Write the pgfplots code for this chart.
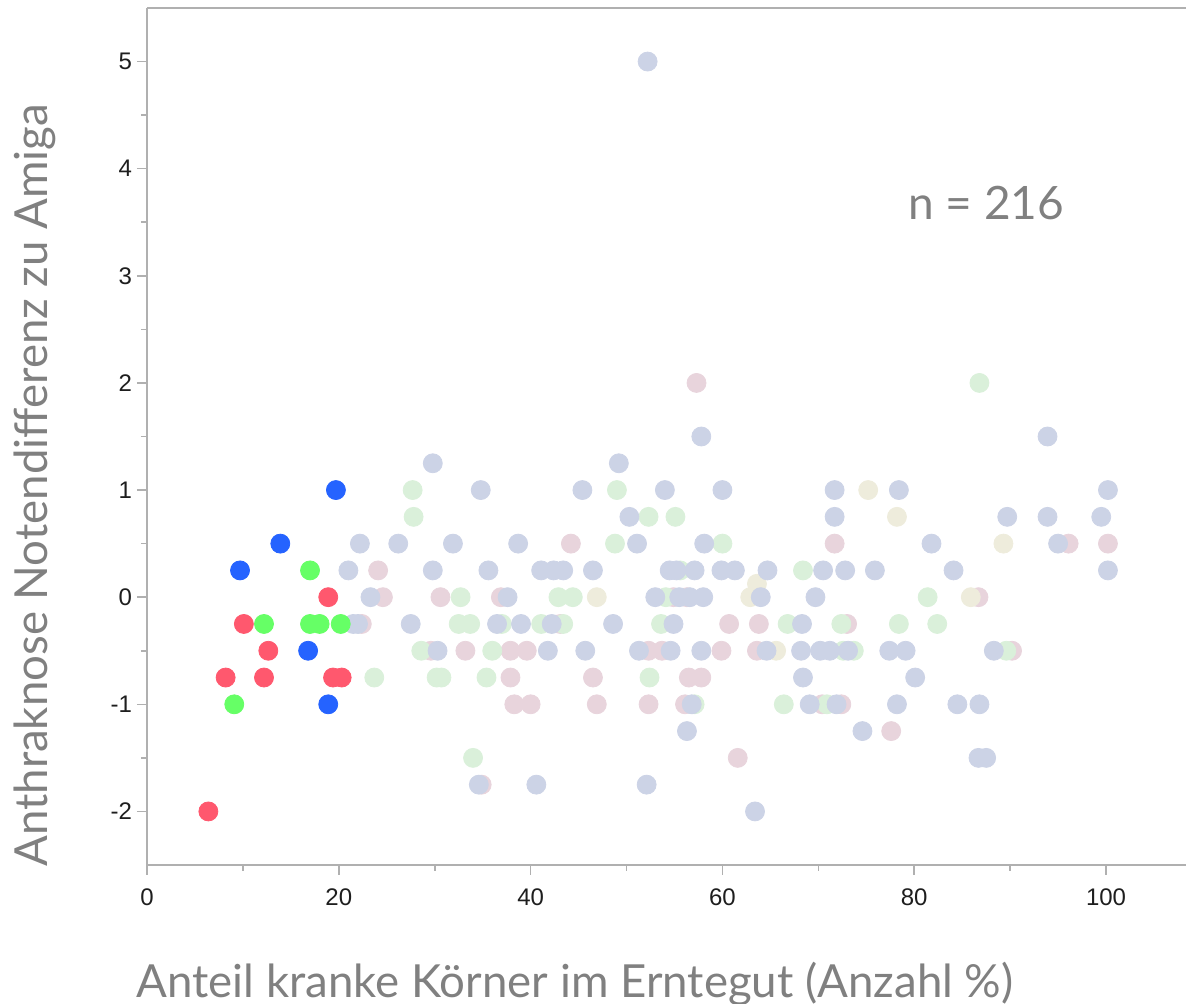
\documentclass[border=0pt]{standalone}
\usepackage{pgfplots}
\pgfplotsset{compat=1.18}
\usepackage{fontspec}
\setmainfont{Lato}
\newfontfamily\tickfont{Liberation Sans}
\definecolor{axisgray}{RGB}{176,176,176}
\definecolor{labgray}{RGB}{128,128,128}
\definecolor{tickblack}{RGB}{30,30,30}
\definecolor{fblue}{RGB}{204,211,230}
\definecolor{fgreen}{RGB}{218,240,218}
\definecolor{fpink}{RGB}{232,212,220}
\definecolor{fyellow}{RGB}{238,236,220}
\definecolor{bred}{RGB}{255,88,110}
\definecolor{bgreen}{RGB}{102,255,102}
\definecolor{bblue}{RGB}{37,99,255}
\begin{document}
\begin{tikzpicture}
\begin{axis}[
  at={(0pt,0pt)}, anchor=south west,
  scale only axis, width=519.5pt, height=428.5pt,
  xmin=0, xmax=108.34, ymin=-2.5, ymax=5.5,
  axis y line*=left,
  axis line style={draw=axisgray, line width=1pt},
  xtick={0,20,...,100}, ytick={-2,...,5},
  minor xtick={10,30,...,90}, minor ytick={-1.5,-0.5,...,4.5},
  tick align=outside, xtick pos=bottom, ytick pos=left,
  major tick length=5pt, minor tick length=3pt,
  every tick/.style={draw=axisgray, line width=0.8pt},
  every minor tick/.style={draw=axisgray, line width=0.8pt},
  /pgf/number format/assume math mode=true,
  ticklabel style={font=\tickfont\fontsize{12}{12}\selectfont, text=tickblack},
  xticklabel style={yshift=-3.5pt},
  yticklabel style={xshift=1pt},
  xlabel={Anteil kranke Körner im Erntegut (Anzahl \%)},
  ylabel={Anthraknose Notendifferenz zu Amiga},
  every axis x label/.style={at={(rel axis cs:0.412,0)}, anchor=base, yshift=-66pt, font=\fontsize{22.8}{24}\selectfont, text=labgray},
  every axis y label/.style={at={(rel axis cs:0,0.443)}, anchor=center, xshift=-56pt, rotate=90, font=\fontsize{22.8}{24}\selectfont, text=labgray},
]
% faded pink
\addplot[only marks, mark=*, mark size=4.75pt, color=fpink, mark options={draw=none}] coordinates {
(24.1,0.25) (24.6,0) (22.4,-0.25) (30.6,0) (36.9,0) (29.6,-0.5) (33.2,-0.5) (37.9,-0.5) (39.6,-0.5)
(37.9,-0.75) (38.3,-1) (40.0,-1) (34.9,-1.75) (57.3,2) (44.2,0.5) (54.9,0) (56.3,0) (52.3,-0.5)
(53.7,-0.5) (46.5,-0.75) (56.5,-0.75) (57.8,-0.75) (46.9,-1) (52.3,-1) (56.1,-1) (71.7,0.5)
(60.7,-0.25) (63.8,-0.25) (73.0,-0.25) (59.9,-0.5) (63.6,-0.5) (70.4,-1) (72.4,-1) (61.6,-1.5)
(86.7,0) (90.2,-0.5) (77.6,-1.25) (96.1,0.5) (100.2,0.5) (43.1,-0.25)
};
% faded yellow
\addplot[only marks, mark=*, mark size=4.75pt, color=fyellow, mark options={draw=none}] coordinates {
(46.9,0) (75.2,1) (78.2,0.75) (89.3,0.5) (63.6,0.125) (62.9,0) (65.6,-0.5) (85.9,0)
};
% faded green
\addplot[only marks, mark=*, mark size=4.75pt, color=fgreen, mark options={draw=none}] coordinates {
(27.7,1) (27.8,0.75) (28.6,-0.5) (23.7,-0.75) (32.7,0) (32.5,-0.25) (33.7,-0.25) (41.1,-0.25)
(36.0,-0.5) (30.2,-0.75) (30.7,-0.75) (35.4,-0.75) (34.0,-1.5) (49.0,1) (52.3,0.75) (55.1,0.75)
(48.8,0.5) (55.6,0.25) (42.9,0) (44.4,0) (54.1,0) (43.4,-0.25) (53.6,-0.25) (52.4,-0.75) (57.1,-1)
(60.0,0.5) (68.4,0.25) (66.8,-0.25) (72.4,-0.25) (72.6,-0.5) (73.7,-0.5) (66.4,-1) (70.9,-1)
(86.8,2) (81.4,0) (78.4,-0.25) (82.4,-0.25) (89.6,-0.5) (37.0,-0.25)
};
% faded blue
\addplot[only marks, mark=*, mark size=4.75pt, color=fblue, mark options={draw=none}] coordinates {
(21.0,0.25) (22.2,0.5) (26.2,0.5) (23.3,0) (21.5,-0.25) (22.0,-0.25) (27.5,-0.25)
(29.8,1.25) (34.8,1) (31.9,0.5) (38.7,0.5) (29.8,0.25) (35.6,0.25) (41.1,0.25) (37.6,0)
(36.5,-0.25) (39.0,-0.25) (30.3,-0.5) (41.8,-0.5) (34.6,-1.75) (40.6,-1.75)
(49.2,1.25) (45.4,1) (54.0,1) (50.3,0.75) (51.1,0.5) (58.1,0.5) (42.4,0.25) (43.4,0.25)
(46.5,0.25) (54.5,0.25) (55.2,0.25) (57.1,0.25) (53.0,0) (55.5,0) (56.6,0) (58.0,0)
(42.2,-0.25) (48.6,-0.25) (54.9,-0.25) (45.7,-0.5) (51.3,-0.5) (54.6,-0.5) (57.8,-0.5)
(56.8,-1) (56.3,-1.25) (52.1,-1.75) (57.8,1.5) (52.2,5)
(60.0,1) (71.7,1) (71.7,0.75) (59.9,0.25) (61.3,0.25) (64.7,0.25) (70.5,0.25) (72.8,0.25)
(64.0,0) (69.7,0) (68.3,-0.25) (64.6,-0.5) (68.2,-0.5) (70.2,-0.5) (71.2,-0.5) (73.1,-0.5)
(68.4,-0.75) (69.1,-1) (71.9,-1) (74.6,-1.25) (63.4,-2)
(78.4,1) (89.7,0.75) (81.8,0.5) (75.9,0.25) (84.1,0.25) (77.4,-0.5) (79.1,-0.5) (88.3,-0.5)
(80.1,-0.75) (78.2,-1) (84.5,-1) (86.8,-1) (86.7,-1.5) (87.5,-1.5)
(93.9,1.5) (100.2,1) (93.9,0.75) (99.5,0.75) (95.0,0.5) (100.2,0.25)
};
% bright red
\addplot[only marks, mark=*, mark size=4.75pt, color=bred, mark options={draw=none}] coordinates {
(6.4,-2) (8.2,-0.75) (10.1,-0.25) (12.2,-0.75) (12.65,-0.5) (18.9,0) (19.4,-0.75) (20.3,-0.75)
};
% bright green
\addplot[only marks, mark=*, mark size=4.75pt, color=bgreen, mark options={draw=none}] coordinates {
(9.1,-1) (12.2,-0.25) (17.0,0.25) (17.0,-0.25) (18.0,-0.25) (20.2,-0.25)
};
% bright blue
\addplot[only marks, mark=*, mark size=4.75pt, color=bblue, mark options={draw=none}] coordinates {
(9.7,0.25) (13.9,0.5) (16.8,-0.5) (18.9,-1) (19.7,1)
};
\node[font=\fontsize{23}{24}\selectfont, text=labgray, anchor=center] at (axis cs:87.5,3.68) {n = 216};
\end{axis}
\pgfresetboundingbox
\useasboundingbox (-73.5pt,-69.5pt) rectangle (519.5pt,432.5pt);
\end{tikzpicture}
\end{document}
